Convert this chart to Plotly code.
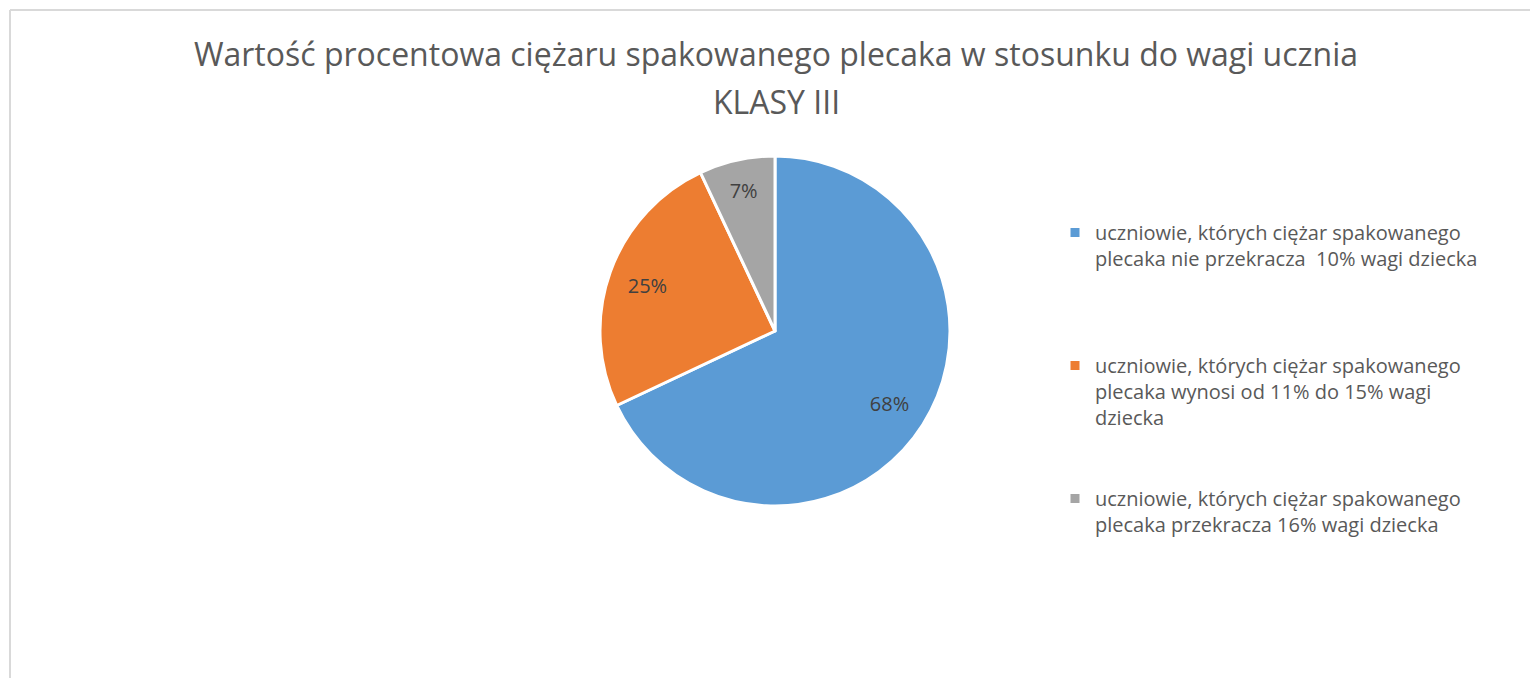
import plotly.graph_objects as go

# ---- data ----
categories = [
    "uczniowie, których ciężar spakowanego<br>plecaka nie przekracza  10% wagi dziecka",
    "uczniowie, których ciężar spakowanego<br>plecaka wynosi od 11% do 15% wagi<br>dziecka",
    "uczniowie, których ciężar spakowanego<br>plecaka przekracza 16% wagi dziecka",
]
values = [68, 25, 7]
colors = ["#5B9BD5", "#ED7D31", "#A5A5A5"]
title_line1 = "Wartość procentowa ciężaru spakowanego plecaka w stosunku do wagi ucznia"
title_line2 = "KLASY III"

W, H = 1538, 678
OFF = 8  # page body margin in the browser
FONT = "Open Sans"


def px(x):
    return (x - OFF) / W


def py(y):
    return 1 - (y - OFF) / H


# pad legend labels with blank lines to mimic spacing of reference legend
pad = "<br>\u00a0"
legend_labels = [categories[0] + pad * 3, categories[1] + pad * 2, categories[2]]

pie_domain = dict(x=[px(600), px(950)], y=[py(506), py(156)])

fig = go.Figure()
fig.add_trace(
    go.Pie(
        labels=legend_labels,
        values=values,
        sort=False,
        direction="clockwise",
        rotation=0,
        marker=dict(colors=colors, line=dict(color="white", width=3)),
        textinfo="none",
        domain=pie_domain,
        hoverinfo="label+percent",
    )
)
# transparent ring carrying the data labels (places them at ~0.78 R like the reference)
fig.add_trace(
    go.Pie(
        labels=legend_labels,
        values=values,
        sort=False,
        direction="clockwise",
        rotation=0,
        hole=0.55,
        marker=dict(colors=["rgba(0,0,0,0)"] * len(values), line=dict(width=0)),
        texttemplate="%{value}%",
        textposition="inside",
        insidetextorientation="horizontal",
        textfont=dict(family=FONT, size=20, color="#404040"),
        domain=pie_domain,
        hoverinfo="skip",
        showlegend=False,
    )
)

fig.update_layout(
    width=W,
    height=H,
    margin=dict(l=0, r=0, t=0, b=0),
    paper_bgcolor="white",
    plot_bgcolor="white",
    font=dict(family=FONT, color="#595959"),
    title=dict(
        text=title_line1,
        x=px(776),
        xanchor="center",
        y=py(55),
        yanchor="middle",
        font=dict(family=FONT, size=32, color="#595959"),
    ),
    annotations=[
        dict(
            text=title_line2,
            x=px(776),
            y=py(101),
            xref="paper",
            yref="paper",
            xanchor="center",
            yanchor="middle",
            showarrow=False,
            font=dict(family=FONT, size=32, color="#595959"),
        )
    ],
    legend=dict(
        x=px(1055),
        xanchor="left",
        y=py(213),
        yanchor="top",
        valign="top",
        font=dict(family=FONT, size=20, color="#595959"),
        bgcolor="rgba(0,0,0,0)",
    ),
    shapes=[
        dict(type="line", xref="paper", yref="paper", x0=px(10), x1=1, y0=py(10), y1=py(10),
             line=dict(color="#D9D9D9", width=2)),
        dict(type="line", xref="paper", yref="paper", x0=px(10), x1=px(10), y0=0, y1=py(10),
             line=dict(color="#D9D9D9", width=2)),
    ],
)

fig.write_html("out.html")
